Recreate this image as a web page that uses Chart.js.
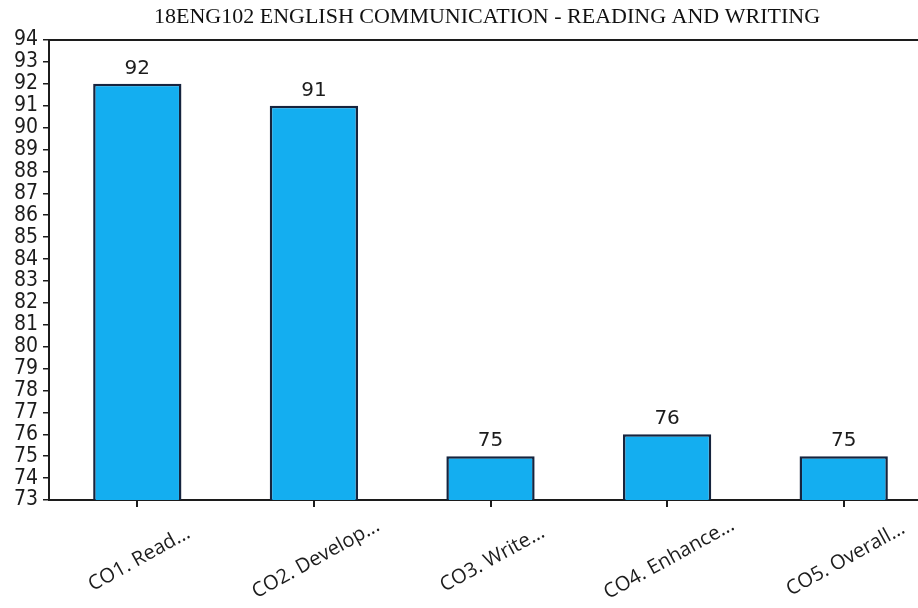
<!DOCTYPE html>
<html>
<head>
<meta charset="utf-8">
<script src="https://cdn.jsdelivr.net/npm/chart.js@4/dist/chart.umd.min.js"></script>
<style>
  html, body { margin: 0; padding: 0; background: #fff; overflow: hidden; }
  #wrap { width: 934px; height: 608px; position: relative; }
</style>
</head>
<body>
<div id="wrap"><canvas id="coChart"></canvas></div>
<script>
// --- DATA ---
const titleText = '18ENG102 ENGLISH COMMUNICATION - READING AND WRITING';
const categories = ['CO1. Read...', 'CO2. Develop...', 'CO3. Write...', 'CO4. Enhance...', 'CO5. Overall...'];
const scores = [92, 91, 75, 76, 75];
const yMin = 73;
const yMax = 94;

const ink = '#1c1c1c';

// title, top frame line, value labels and rotated category labels
const decorPlugin = {
    id: 'decor',
    afterDraw(chart) {
        const { ctx, chartArea } = chart;
        ctx.save();

        // title
        ctx.fillStyle = '#111';
        ctx.font = '22px "Liberation Serif"';
        ctx.textAlign = 'center';
        ctx.textBaseline = 'middle';
        ctx.fillText(titleText, 487, 17);

        // top frame line
        ctx.strokeStyle = ink;
        ctx.lineWidth = 2;
        ctx.beginPath();
        ctx.moveTo(chartArea.left, chartArea.top);
        ctx.lineTo(chartArea.right, chartArea.top);
        ctx.stroke();

        // value labels above bars
        ctx.fillStyle = ink;
        ctx.font = '20px "DejaVu Sans"';
        ctx.textBaseline = 'bottom';
        chart.getDatasetMeta(0).data.forEach((bar, i) => {
            ctx.fillText(String(scores[i]), bar.x, bar.y - 5);
        });

        // category labels, rotated and centred on their ticks
        const xScale = chart.scales.x;
        ctx.font = '20px "Open Sans"';
        ctx.textBaseline = 'middle';
        categories.forEach((label, i) => {
            const x = xScale.getPixelForTick(i);
            ctx.save();
            ctx.translate(x + 2, chartArea.bottom + 59);
            ctx.rotate(-29 * Math.PI / 180);
            ctx.fillText(label, 0, 0);
            ctx.restore();
        });

        ctx.restore();
    }
};

new Chart(document.getElementById('coChart'), {
    type: 'bar',
    data: {
        labels: categories,
        datasets: [{
            data: scores,
            backgroundColor: '#14aef0',
            borderColor: '#16243e',
            borderWidth: 2.5,
            borderSkipped: false,
            barPercentage: 0.5,
            categoryPercentage: 1.0
        }]
    },
    options: {
        responsive: true,
        maintainAspectRatio: false,
        animation: false,
        layout: {
            padding: { top: 40, left: 0, right: 2, bottom: 0 }
        },
        plugins: {
            legend: { display: false },
            title: { display: false },
            tooltip: { enabled: false }
        },
        scales: {
            x: {
                offset: true,
                grid: {
                    offset: false,
                    drawOnChartArea: false,
                    drawTicks: true,
                    tickLength: 7,
                    color: ink,
                    lineWidth: 2
                },
                border: { color: ink, width: 2 },
                ticks: { display: false },
                afterFit(scale) { scale.height = 108; }
            },
            y: {
                min: yMin,
                max: yMax,
                grid: {
                    drawOnChartArea: false,
                    drawTicks: true,
                    tickLength: 6,
                    color: ink,
                    lineWidth: 1.5
                },
                border: { color: ink, width: 2 },
                ticks: {
                    stepSize: 1,
                    autoSkip: false,
                    padding: 5,
                    color: ink,
                    font: { family: '"DejaVu Sans Condensed", "DejaVu Sans"', size: 21, lineHeight: 1 }
                },
                afterFit(scale) { scale.width = 49; }
            }
        }
    },
    plugins: [decorPlugin]
});
</script>
</body>
</html>
